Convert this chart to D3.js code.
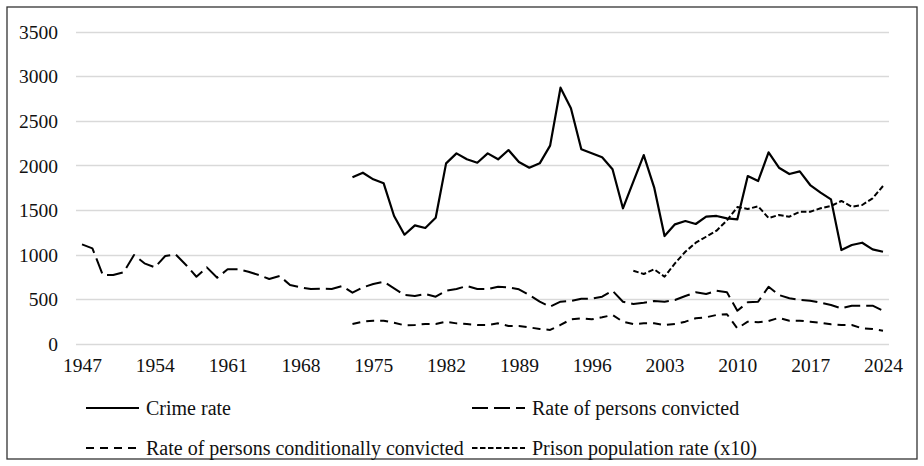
<!DOCTYPE html>
<html><head><meta charset="utf-8">
<script src="https://cdn.jsdelivr.net/npm/d3@7"></script>
<style>
html,body{margin:0;padding:0;background:#fff;}
svg text{font-family:"Liberation Serif","Times New Roman",serif;fill:#111;}
</style></head>
<body><svg id="c" width="924" height="466"></svg>
<script>
const yTicks = [0,500,1000,1500,2000,2500,3000,3500];
const xTickYears = [1947,1954,1961,1968,1975,1982,1989,1996,2003,2010,2017,2024];

const convictedYears = d3.range(1947, 2025);
const convicted = [1114,1069,770,770,800,994,901,856,983,1002,882,751,856,740,834,834,807,770,725,759,658,632,613,617,613,647,
  572,632,669,695,621,546,535,557,527,594,613,647,613,613,639,632,610,546,471,415,471,479,505,505,527,594,471,
  445,460,479,471,490,535,576,557,594,576,370,464,471,639,546,509,490,482,460,434,397,426,426,426,370];

const crimeYears = d3.range(1973, 2025);
const crime = [1865,1917,1843,1798,1432,1222,1327,1297,1412,2022,2134,2067,2029,2134,2067,2171,2037,1973,2022,2220,2870,2639,2179,2134,2090,1955,1518,
  1816,2115,1753,1207,1338,1375,1342,1424,1432,1405,1394,1880,1824,2145,1973,1902,1932,1779,1693,1618,1050,1106,1132,1058,1031];

const condYears = d3.range(1973, 2025);
const cond = [221,247,258,258,235,206,210,221,221,247,228,221,210,210,228,198,198,183,165,154,210,273,285,273,296,322,247,
  221,228,228,210,221,247,285,296,322,330,172,247,240,255,290,258,258,247,235,217,210,210,172,165,146];

const prisonYears = d3.range(2000, 2025);
const prison = [818,781,834,751,901,1031,1132,1199,1267,1383,1532,1510,1540,1409,1443,1424,1480,1480,1518,1544,1600,1536,1555,1630,1768];

const seriesNames = ["Crime rate","Rate of persons convicted","Rate of persons conditionally convicted","Prison population rate (x10)"];

const FONT = "'Liberation Serif','Times New Roman',serif";
const svg = d3.select("#c");
svg.append("rect").attr("x",7).attr("y",7).attr("width",910).attr("height",452)
  .attr("fill","#fff").attr("stroke","#333").attr("stroke-width",1.3);

const x = d3.scaleLinear().domain([1947,2024]).range([82,883]);
const y = d3.scaleLinear().domain([0,3500]).range([343.7,31.5]);
const plotL = 76, plotR = 889;

// gridlines
svg.append("g").selectAll("line").data(yTicks).join("line")
  .attr("x1",plotL).attr("x2",plotR)
  .attr("y1",d=>Math.round(y(d))+0.5).attr("y2",d=>Math.round(y(d))+0.5)
  .attr("stroke","#d9d9d9").attr("stroke-width",1.3);

// y axis labels
const yAxis = d3.axisLeft(y).tickValues(yTicks).tickFormat(d3.format("d")).tickSize(0).tickPadding(0);
const gy = svg.append("g").attr("transform","translate(58,0)").call(yAxis)
  .attr("font-family",FONT).attr("font-size",19.5);
gy.select(".domain").remove();
gy.selectAll("text").attr("dy","0.35em").attr("fill","#111");

// x axis labels
const xAxis = d3.axisBottom(x).tickValues(xTickYears).tickFormat(d3.format("d")).tickSize(0).tickPadding(0);
const gx = svg.append("g").attr("transform","translate(0,358)").call(xAxis)
  .attr("font-family",FONT).attr("font-size",19.5);
gx.select(".domain").remove();
gx.selectAll("text").attr("dy","0.72em").attr("fill","#111");

const line = (yrs) => d3.line().x((d,i)=>x(yrs[i])).y(d=>y(d));

const styles = [
  {w:2.2, dash:null},
  {w:2, dash:"16,6"},
  {w:2, dash:"8,6"},
  {w:2, dash:"5.5,2.5"}
];
const data = [[crimeYears,crime],[convictedYears,convicted],[condYears,cond],[prisonYears,prison]];
data.forEach(([yrs,vals],k)=>{
  svg.append("path").datum(vals).attr("d",line(yrs)).attr("fill","none")
    .attr("stroke","#000").attr("stroke-width",styles[k].w)
    .attr("stroke-dasharray",styles[k].dash).attr("stroke-linejoin","round");
});

// legend
const legPos = [[86,408],[472,408],[86,448],[472,448]];
seriesNames.forEach((n,k)=>{
  const [lx,ly] = legPos[k];
  svg.append("line").attr("x1",lx).attr("x2",lx+53).attr("y1",ly).attr("y2",ly)
    .attr("stroke","#000").attr("stroke-width",styles[k].w).attr("stroke-dasharray",styles[k].dash);
  svg.append("text").attr("x",lx+60).attr("y",ly).attr("dy","0.33em").attr("font-size",20)
    .attr("font-family",FONT).text(n);
});
</script></body></html>
